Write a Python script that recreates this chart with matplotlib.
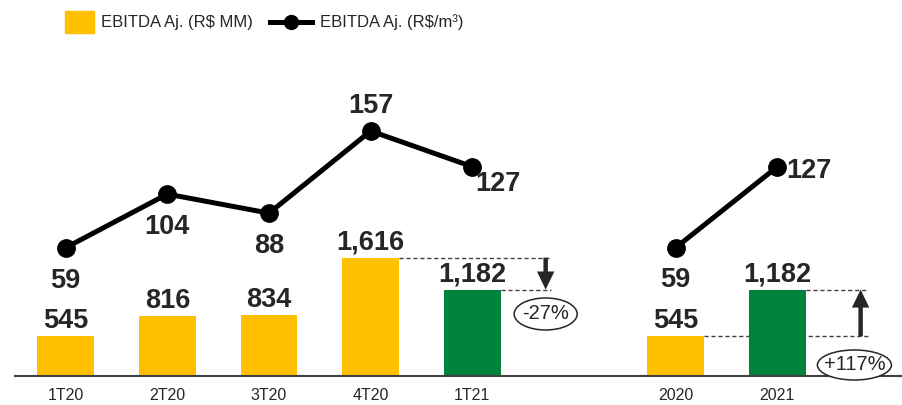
import matplotlib
matplotlib.use("Agg")
import matplotlib.pyplot as plt
from matplotlib.patches import Rectangle, Ellipse
from matplotlib.lines import Line2D

# data
categories = ["1T20", "2T20", "3T20", "4T20", "1T21", "2020", "2021"]
positions = [0, 1, 2, 3, 4, 6, 7]
ebitda_mm = [545, 816, 834, 1616, 1182, 545, 1182]          # R$ MM (bars)
ebitda_m3 = [59, 104, 88, 157, 127, 59, 127]                # R$/m3 (line)
bar_labels = ["545", "816", "834", "1,616", "1,182", "545", "1,182"]
highlight = [False, False, False, False, True, False, True]
qoq_label = "-27%"
yoy_label = "+117%"

YELLOW = "#FFC000"
GREEN = "#00843D"
DARK = "#262626"
plt.rcParams["font.family"] = ["Liberation Sans", "DejaVu Sans"]

W, H = 902, 405
fig = plt.figure(figsize=(W / 100, H / 100), dpi=100)
base_px, top_px = 376.3, 40
ax = fig.add_axes([15 / W, (H - base_px) / H, 887 / W, (base_px - top_px) / H])
ax2 = ax.twinx()

bw = 0.558
colors = [GREEN if h else YELLOW for h in highlight]
ax.bar(positions, ebitda_mm, width=bw, color=colors, zorder=2)
ax.set_xlim(-0.4987, 8.226)
ax.set_ylim(0, 4582)
ax2.set_ylim(-49, 233.4)

NUM = dict(ha="center", va="baseline", fontsize=19.5, fontweight="bold",
           color=DARK, textcoords="offset points")
for x, v, lab in zip(positions, ebitda_mm, bar_labels):
    ax.annotate(lab, (x, v), xytext=(0, 5.8), **NUM)

# line: quarters and years are separate segments
ax2.plot(positions[:5], ebitda_m3[:5], color="black", lw=3.6, marker="o",
         ms=12.5, zorder=3)
ax2.plot(positions[5:], ebitda_m3[5:], color="black", lw=3.6, marker="o",
         ms=12.5, zorder=3)
offsets = [(0, -29), (0, -29), (0, -28.5), (0, 13.3), (18.5, -17.6),
           (0, -28), (22.8, -8.4)]
for x, v, (dx, dy) in zip(positions, ebitda_m3, offsets):
    ax2.annotate(str(v), (x, v), xytext=(dx, dy), **NUM)

# comparison markers
dash = dict(color="#404040", lw=1, linestyle=(0, (3, 2)), zorder=1)
ax.hlines(ebitda_mm[3], positions[3] + bw / 2, 4.773, **dash)
ax.hlines(ebitda_mm[4], positions[4] + bw / 2, 4.773, **dash)
ax.hlines(ebitda_mm[6], positions[6] + bw / 2, 7.894, **dash)
ax.hlines(ebitda_mm[5], positions[5] + bw / 2, 7.894, **dash)

arrow = dict(width=3.2, headwidth=12.5, headlength=13, shrink=0,
             color=DARK, lw=0)
ax.annotate("", xy=(4.721, ebitda_mm[4]), xytext=(4.721, ebitda_mm[3]),
            arrowprops=arrow)
ax.annotate("", xy=(7.819, ebitda_mm[6]), xytext=(7.819, ebitda_mm[5]),
            arrowprops=arrow)

for (cx, cy, w, h, txt) in [(4.721, 849, 0.62, 436, qoq_label),
                            (7.758, 154, 0.728, 409, yoy_label)]:
    e = Ellipse((cx, cy), w, h, transform=ax.transData, facecolor="white",
                edgecolor=DARK, lw=1.1, zorder=5, clip_on=False)
    ax2.add_patch(e)
    ax2.text(cx, cy, txt, transform=ax.transData, ha="center", va="center",
             fontsize=14.5, color=DARK, zorder=6)

ax.set_xticks(positions, categories)
ax.tick_params(axis="x", length=0, pad=8.5, labelsize=11.5, labelcolor=DARK)
ax.set_yticks([])
ax2.set_yticks([])
for s in ["top", "left", "right"]:
    ax.spines[s].set_visible(False)
for s in ax2.spines.values():
    s.set_visible(False)
ax.spines["bottom"].set_color("#404040")
ax.spines["bottom"].set_linewidth(1.5)

# legend, drawn by hand at the top
fx = lambda px: px / W
fy = lambda py: 1 - py / H
fig.add_artist(Rectangle((fx(65), fy(33)), 29 / W, 22 / H, color=YELLOW,
                         transform=fig.transFigure))
fig.text(fx(101), fy(22), "EBITDA Aj. (R$ MM)", fontsize=12, color=DARK,
         va="center", ha="left")
fig.add_artist(Line2D([fx(270), fx(312)], [fy(21.5), fy(21.5)], color="black",
                      lw=3.6, transform=fig.transFigure))
fig.add_artist(Line2D([fx(291)], [fy(21.5)], color="black", marker="o", ms=10,
                      transform=fig.transFigure))
fig.text(fx(320), fy(22), "EBITDA Aj. (R$/m³)", fontsize=12, color=DARK,
         va="center", ha="left")

fig.savefig("out.png", dpi=100, facecolor="white")
